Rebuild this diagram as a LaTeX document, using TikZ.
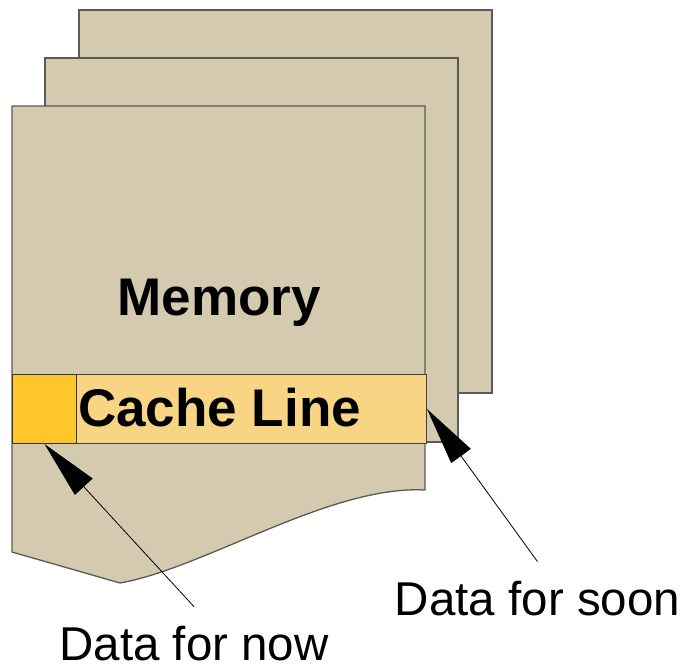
\documentclass[tikz,border=0pt]{standalone}
\usepackage{fontspec}
\setmainfont{Liberation Sans}
\usetikzlibrary{arrows.meta}
\definecolor{sheet}{HTML}{D4CAB0}
\definecolor{sheetline}{HTML}{5C5A52}
\definecolor{linefill}{HTML}{F7D585}
\definecolor{wordfill}{HTML}{FEC62A}
\tikzset{
  sheetbox/.style={fill=sheet, draw=sheetline, line width=1.3pt},
  cacheline/.style={fill=linefill, draw=black!75, line width=1pt, inner sep=0pt, anchor=north west},
  wordbox/.style={fill=wordfill, draw=black!80, line width=1pt, inner sep=0pt, anchor=north west},
  biglabel/.style={font=\fontsize{53}{60}\selectfont\bfseries, inner sep=0pt},
  pointer/.style={line width=0.8pt, -{Triangle[length=58pt,width=24pt]}},
  caption/.style={font=\fontsize{47.5}{54}\selectfont, inner sep=0pt, outer ysep=19pt, anchor=base}
}
\begin{document}
\begin{tikzpicture}[x=1pt, y=-1pt]
\useasboundingbox (0,0) rectangle (686,670);
% stacked memory pages
\draw[sheetbox] (79,10) rectangle (492,393);
\draw[sheetbox] (45,58) rectangle (458,442);
\draw[sheetbox] (12,106) -- (425,106) -- (425,490)
  .. controls (330,485) and (205,568) .. (120,583) -- (12,552) -- cycle;
% cache line with its first word
\node[cacheline, minimum width=414pt, minimum height=69pt] (line) at (12,374) {};
\node[wordbox, minimum width=64pt, minimum height=69pt] (word) at (12,374) {};
\node[biglabel, anchor=base] (mem) at (219,315) {Memory};
\node[biglabel, anchor=base west] (linetext) at (78,426) {Cache Line};
% labels and pointers
\node[caption] (soon) at (537.5,615) {Data for soon};
\node[caption] (now) at (194,660) {Data for now};
\draw[pointer] (soon.north) -- (line.east);
\draw[pointer] (now.north) -- (word.south);
\end{tikzpicture}
\end{document}
